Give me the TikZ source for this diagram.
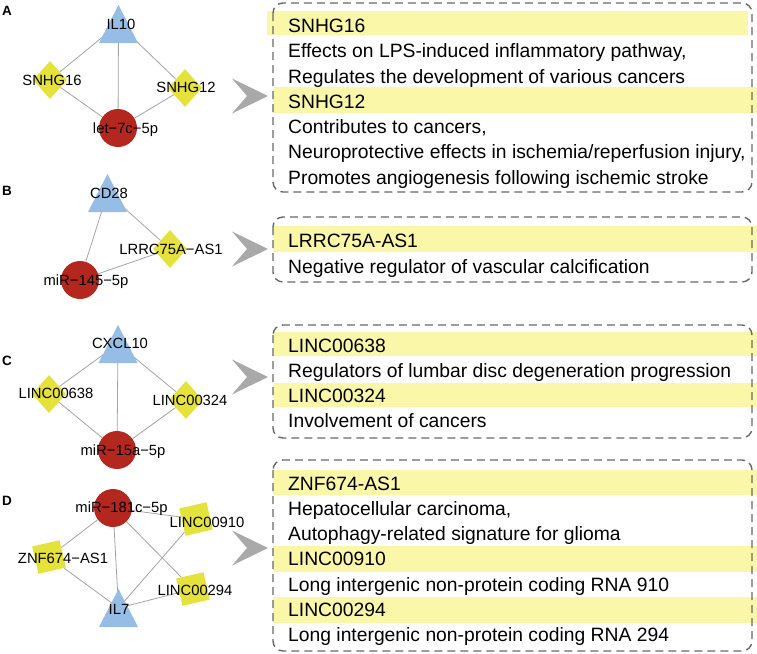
\documentclass[tikz,border=0pt]{standalone}
\usepackage{fontspec}
\setmainfont{Liberation Sans}
\usetikzlibrary{shapes.geometric}
\pgfdeclarelayer{bg}
\pgfsetlayers{bg,main}
\definecolor{triblue}{HTML}{95BDE6}
\definecolor{diayel}{HTML}{E5E23B}
\definecolor{mired}{HTML}{B4271F}
\definecolor{baryel}{HTML}{FBF7A9}
\definecolor{edgegray}{HTML}{A3A3A3}
\definecolor{boxgray}{HTML}{686868}
\definecolor{chevgray}{HTML}{A9A9A9}
\tikzset{
  tri/.pic={\fill[triblue] (-19.5,19) -- (19.5,19) -- (0,-19) -- cycle;},
  chev/.pic={\fill[chevgray] (-36,-17.5) -- (0,0) -- (-36,17.5) -- (-21,0) -- cycle;},
  dia/.style={diamond, fill=diayel, minimum width=34pt, minimum height=38pt, inner sep=0pt},
  sq/.style={rectangle, fill=diayel, minimum size=28pt, inner sep=0pt, rotate=13},
  mir/.style={circle, fill=mired, minimum size=38pt, inner sep=0pt},
  lbl/.style={anchor=base, inner sep=0pt, font=\fontsize{14.8}{17}\selectfont},
  plbl/.style={anchor=base, inner sep=0pt, font=\fontsize{13.5}{16}\selectfont\bfseries},
  edge/.style={draw=edgegray, line width=0.8pt},
  txt/.style={anchor=base west, inner sep=0pt, font=\fontsize{19.3}{23}\selectfont},
  bar/.style={fill=baryel},
  dbox/.style={draw=boxgray, line width=1.4pt, dash pattern=on 8pt off 5pt, rounded corners=10pt},
}
\begin{document}
\begin{tikzpicture}[x=1pt,y=-1pt]
\useasboundingbox (0,0) rectangle (757,653);

% ---------- Panel A ----------
\node[plbl] (pA) at (7,15) {A};
\coordinate (il10) at (118.5,24);
\pic at (il10) {tri};
\node[dia] (snhg16) at (50,80) {};
\node[dia] (snhg12) at (185,88) {};
\node[mir] (let7c) at (118,128) {};
\node[lbl] (il10l) at (121,29.4) {IL10};
\node[lbl] (snhg16l) at (52,85.4) {SNHG16};
\node[lbl] (snhg12l) at (186,92.4) {SNHG12};
\node[lbl] (let7cl) at (125.5,133.4) {let−7c−5p};
\begin{pgfonlayer}{bg}
\draw[edge] (il10) -- (snhg16);
\draw[edge] (il10) -- (snhg12);
\draw[edge] (il10) -- (let7c);
\draw[edge] (snhg16) -- (let7c);
\draw[edge] (snhg12) -- (let7c);
\end{pgfonlayer}

% ---------- Panel B ----------
\node[plbl] (pB) at (7,195) {B};
\coordinate (cd28) at (107.5,193);
\pic at (cd28) {tri};
\node[dia] (lrrc) at (170,249) {};
\node[mir] (mir145) at (80,280) {};
\node[lbl] (cd28l) at (109,198.4) {CD28};
\node[lbl] (lrrcl) at (171,254.4) {LRRC75A−AS1};
\node[lbl] (mir145l) at (86,285.4) {miR−145−5p};
\begin{pgfonlayer}{bg}
\draw[edge] (cd28) -- (mir145);
\draw[edge] (cd28) -- (lrrc);
\draw[edge] (lrrc) -- (mir145);
\end{pgfonlayer}

% ---------- Panel C ----------
\node[plbl] (pC) at (7,365) {C};
\coordinate (cxcl10) at (118,344);
\pic at (cxcl10) {tri};
\node[dia] (l638) at (49,394) {};
\node[dia] (l324) at (186,400) {};
\node[mir] (mir15a) at (117,450) {};
\node[lbl] (cxcl10l) at (120,348.4) {CXCL10};
\node[lbl] (l638l) at (56,398.4) {LINC00638};
\node[lbl] (l324l) at (190,405.4) {LINC00324};
\node[lbl] (mir15al) at (123,455.4) {miR−15a−5p};
\begin{pgfonlayer}{bg}
\draw[edge] (cxcl10) -- (l638);
\draw[edge] (cxcl10) -- (l324);
\draw[edge] (cxcl10) -- (mir15a);
\draw[edge] (l638) -- (mir15a);
\draw[edge] (l324) -- (mir15a);
\end{pgfonlayer}

% ---------- Panel D ----------
\node[plbl] (pD) at (7,505) {D};
\node[mir] (mir181) at (113,508) {};
\node[sq] (l910) at (196,519) {};
\node[sq] (znf) at (49,557) {};
\node[sq] (l294) at (193,589) {};
\coordinate (il7) at (118.5,608);
\pic at (il7) {tri};
\node[lbl] (mir181l) at (121.5,512.4) {miR−181c−5p};
\node[lbl] (l910l) at (207,527.4) {LINC00910};
\node[lbl] (znfl) at (63,563.4) {ZNF674−AS1};
\node[lbl] (l294l) at (195,595.4) {LINC00294};
\node[lbl] (il7l) at (119,614.4) {IL7};
\begin{pgfonlayer}{bg}
\draw[edge] (mir181) -- (l910);
\draw[edge] (mir181) -- (znf);
\draw[edge] (mir181) -- (il7);
\draw[edge] (mir181) -- (l294);
\draw[edge] (znf) -- (il7);
\draw[edge] (il7) -- (l910);
\draw[edge] (il7) -- (l294);
\end{pgfonlayer}

% ---------- Chevrons ----------
\pic at (268,96) {chev};
\pic at (268,249) {chev};
\pic at (268,377) {chev};
\pic at (268,548) {chev};

% ---------- Box A ----------
\fill[bar] (267,11) rectangle (748,35);
\fill[bar] (273,87) rectangle (757,113);
\draw[dbox] (273,3) rectangle (752,192);
\node[txt] (a1) at (288,32) {SNHG16};
\node[txt] (a2) at (288,57.5) {Effects on LPS-induced inflammatory pathway,};
\node[txt] (a3) at (288,83) {Regulates the development of various cancers};
\node[txt] (a4) at (288,108) {SNHG12};
\node[txt] (a5) at (288,133.5) {Contributes to cancers,};
\node[txt] (a6) at (288,158.5) {Neuroprotective effects in ischemia/reperfusion injury,};
\node[txt] (a7) at (288,184) {Promotes angiogenesis following ischemic stroke};

% ---------- Box B ----------
\fill[bar] (273,226) rectangle (757,252);
\draw[dbox] (273,217) rectangle (752,282);
\node[txt] (b1) at (288,247.5) {LRRC75A-AS1};
\node[txt] (b2) at (288,273) {Negative regulator of vascular calcification};

% ---------- Box C ----------
\fill[bar] (273,332) rectangle (757,356);
\fill[bar] (273,383) rectangle (757,407);
\draw[dbox] (273,325) rectangle (752,438);
\node[txt] (c1) at (288,352) {LINC00638};
\node[txt] (c2) at (288,377) {Regulators of lumbar disc degeneration progression};
\node[txt] (c3) at (288,402.5) {LINC00324};
\node[txt] (c4) at (288,427.5) {Involvement of cancers};

% ---------- Box D ----------
\fill[bar] (273,470) rectangle (757,495);
\fill[bar] (273,546) rectangle (757,572);
\fill[bar] (273,597) rectangle (757,623);
\draw[dbox] (273,460) rectangle (752,651);
\node[txt] (d1) at (288,490.5) {ZNF674-AS1};
\node[txt] (d2) at (288,515.5) {Hepatocellular carcinoma,};
\node[txt] (d3) at (288,540.5) {Autophagy-related signature for glioma};
\node[txt] (d4) at (288,565.5) {LINC00910};
\node[txt] (d5) at (288,591) {Long intergenic non-protein coding RNA 910};
\node[txt] (d6) at (288,616) {LINC00294};
\node[txt] (d7) at (288,641) {Long intergenic non-protein coding RNA 294};
\end{tikzpicture}
\end{document}
